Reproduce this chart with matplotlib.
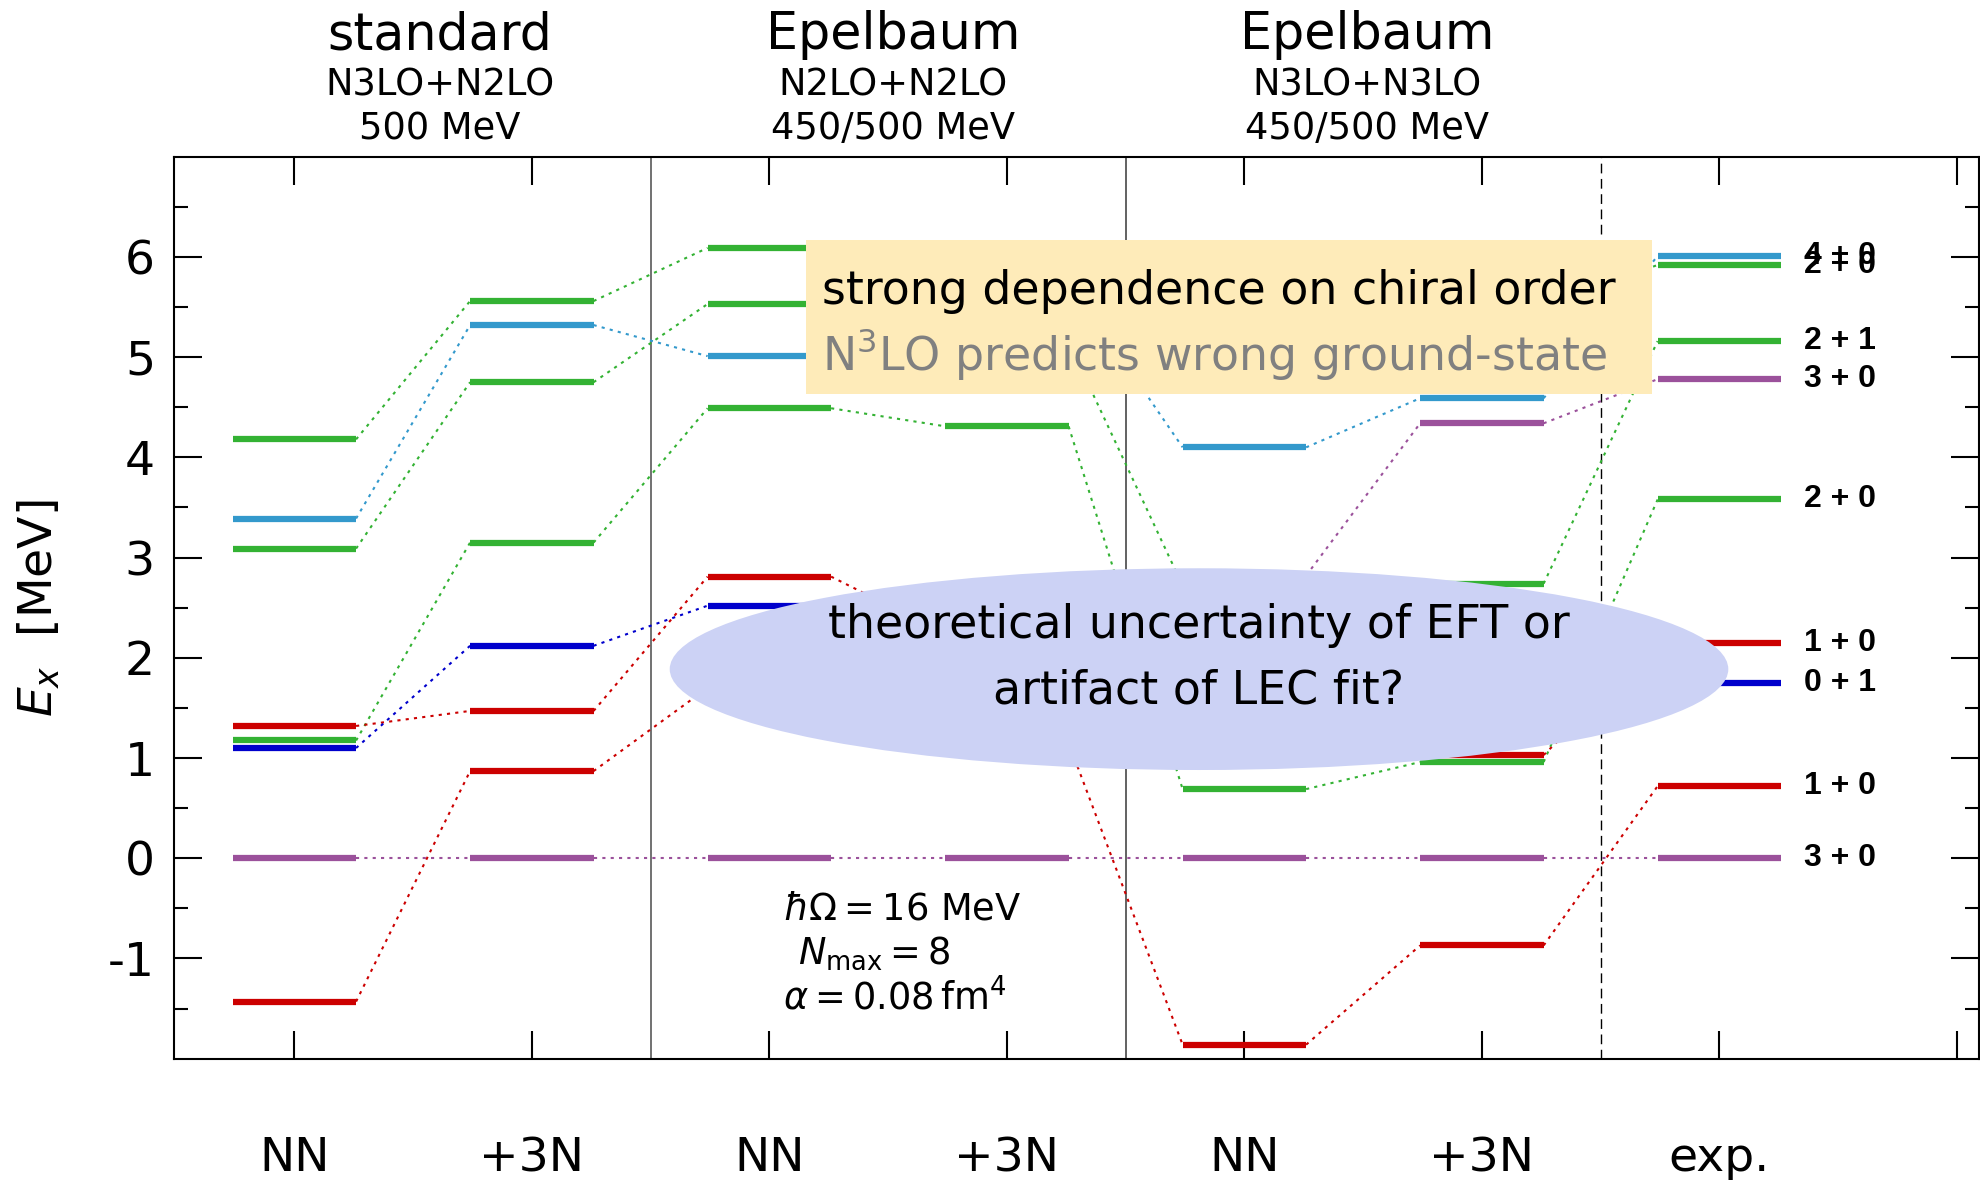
import numpy as np
import matplotlib
matplotlib.use("Agg")
import matplotlib.pyplot as plt
from matplotlib.patches import Ellipse, Rectangle

plt.rcParams['font.family'] = ['DejaVu Sans']
plt.rcParams['mathtext.fontset'] = 'dejavusans'

# columns: NN / +3N for three interactions, then experiment
col_labels = ["NN", "+3N", "NN", "+3N", "NN", "+3N", "exp."]

# excitation energies (MeV) per state, one entry per column (None = not shown)
e_3p_a = [0.0, 0.0, 0.0, 0.0, 0.0, 0.0, 0.0]
e_1p_a = [-1.43, 0.87, 1.70, 1.15, -1.86, -0.87, 0.72]
e_0p_a = [1.10, 2.12, 2.52, 2.00, 1.50, 1.18, 1.75]
e_1p_b = [1.32, 1.47, 2.81, 2.24, 1.15, 1.03, 2.15]
e_2p_a = [1.175, 3.15, 4.49, 4.31, 0.69, 0.96, 3.58]
e_3p_b = [None, None, None, None, 2.82, 4.34, 4.78]
e_2p_b = [3.09, 4.75, 5.53, 5.15, 2.72, 2.74, 5.16]
e_2p_c = [4.18, 5.56, 6.09, 5.90, 5.30, 5.50, 5.92]
e_4p_a = [3.39, 5.32, 5.01, 5.76, 4.10, 4.59, 6.01]

green = '#33b233'
lblue = '#3399cc'
red = '#cc0000'
blue = '#0000cc'
purple = '#9b519b'

states = [
    (e_3p_a, purple), (e_2p_c, green), (e_4p_a, lblue), (e_2p_b, green),
    (e_3p_b, purple), (e_2p_a, green), (e_1p_b, red), (e_0p_a, blue),
    (e_1p_a, red),
]

# experimental J^pi T labels
exp_labels = ["3 + 0", "1 + 0", "0 + 1", "1 + 0", "2 + 0", "3 + 0", "2 + 1", "2 + 0", "4 + 0"]
exp_levels = [e_3p_a[6], e_1p_a[6], e_0p_a[6], e_1p_b[6], e_2p_a[6], e_3p_b[6], e_2p_b[6], e_2p_c[6], e_4p_a[6]]

W, H = 1981, 1180
fig = plt.figure(figsize=(W / 100, H / 100), dpi=100)
left, right, top, bottom = 174.4, 1979, 156.7, 1058.7
ax = fig.add_axes([left / W, 1 - bottom / H, (right - left) / W, (bottom - top) / H])

hw = 0.26
xs = np.arange(1, 8)

for vals, c in states:
    for i in range(len(vals) - 1):
        if vals[i] is None or vals[i + 1] is None:
            continue
        ax.plot([xs[i] + hw, xs[i + 1] - hw], [vals[i], vals[i + 1]],
                color=c, lw=1.5, ls=(0, (1.5, 2.5)), zorder=2)
    for x, v in zip(xs, vals):
        if v is not None:
            ax.plot([x - hw, x + hw], [v, v], color=c, lw=4.5,
                    solid_capstyle='butt', zorder=3)

for lab, v in zip(exp_labels, exp_levels):
    ax.text(7.356, v, lab, family='Liberation Sans', fontweight='bold',
            fontsize=23, va='center', ha='left', zorder=4)

ax.axvline(2.5, color='#666666', lw=1.3, zorder=1)
ax.axvline(4.5, color='#555555', lw=1.3, zorder=1)
ax.axvline(6.5, color='black', lw=1.0, ls=(0, (7, 4)), zorder=1)

# annotation box
ax.add_patch(Rectangle((3.154, 4.629), 3.564, 1.535, facecolor='#feebb9',
                       edgecolor='none', zorder=5))
ax.text(3.223, 5.535, "strong dependence on chiral order", fontsize=33,
        color='black', va='baseline', ha='left', zorder=6)
ax.text(3.223, 4.868, "N$^3$LO predicts wrong ground-state", fontsize=33,
        color='#808080', va='baseline', ha='left', zorder=6)

# ellipse annotation
ax.add_patch(Ellipse((4.809, 1.887), 4.457, 2.013, facecolor='#ccd2f5',
                     edgecolor='none', zorder=5))
ax.text(4.809, 2.20, "theoretical uncertainty of EFT or", fontsize=33,
        va='baseline', ha='center', zorder=6)
ax.text(4.809, 1.547, "artifact of LEC fit?", fontsize=33,
        va='baseline', ha='center', zorder=6)

# model-space parameters
ax.text(3.059, -0.616, r"$\hbar\Omega = 16$ MeV", fontsize=26.5, va='baseline', zorder=6)
ax.text(3.122, -1.057, r"$N_{\mathrm{max}} = 8$", fontsize=26.5, va='baseline', zorder=6)
ax.text(3.059, -1.509, r"$\alpha = 0.08\,\mathrm{fm}^4$", fontsize=26.5, va='baseline', zorder=6)

# column group headers
headers = [
    (1.612, "standard", "N3LO+N2LO", "500 MeV"),
    (3.521, "Epelbaum", "N2LO+N2LO", "450/500 MeV"),
    (5.516, "Epelbaum", "N3LO+N3LO", "450/500 MeV"),
]
tr = ax.get_xaxis_transform()
for x, t1, t2, t3 in headers:
    ax.text(x, 1.1194, t1, fontsize=36.5, ha='center', va='baseline', transform=tr, clip_on=False)
    ax.text(x, 1.0673, t2, fontsize=26.5, ha='center', va='baseline', transform=tr, clip_on=False)
    ax.text(x, 1.0196, t3, fontsize=26.5, ha='center', va='baseline', transform=tr, clip_on=False)

ax.set_xlim(0.495, 8.093)
ax.set_ylim(-2, 7)

ax.set_xticks(range(1, 9))
ax.set_xticklabels(col_labels + [""], fontsize=34)
ax.set_yticks(range(-1, 7))
ax.set_yticklabels([str(v) for v in range(-1, 7)], fontsize=34)
ax.set_yticks(np.arange(-1.5, 7, 1.0), minor=True)

ax.tick_params(axis='both', which='major', direction='in', length=20, width=1.5,
               top=True, right=True)
ax.tick_params(axis='x', which='major', pad=56)
ax.tick_params(axis='y', which='major', pad=14)
ax.tick_params(axis='y', which='minor', direction='in', length=10, width=1.5,
               left=True, right=True)
ax.tick_params(axis='x', which='minor', bottom=False, top=False)

for s in ax.spines.values():
    s.set_linewidth(1.5)

ax.set_ylabel(r"$E_x$  [MeV]", fontsize=34)
ax.yaxis.set_label_coords(-0.062, 0.5)

fig.savefig("out.png", dpi=100)
